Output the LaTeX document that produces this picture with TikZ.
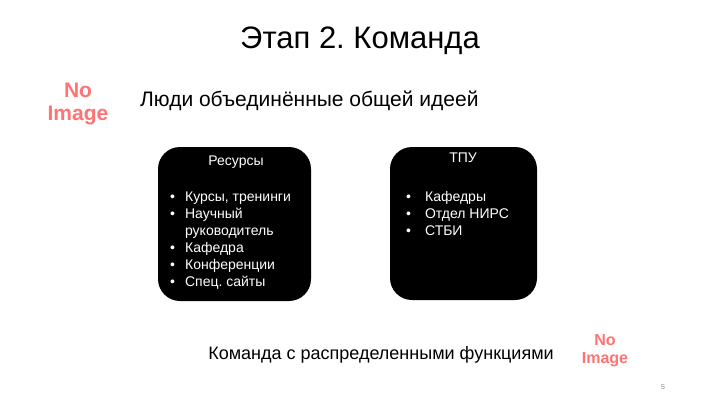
\documentclass[tikz,border=0pt]{standalone}
\usepackage{fontspec}
\setmainfont{Liberation Sans}
\frenchspacing
\begin{document}
\begin{tikzpicture}[x=1pt,y=-1pt,
  noimg/.style={text=red!55!white, font=\fontsize{21}{23}\selectfont\bfseries, align=center, inner sep=0pt},
  boxtext/.style={text=white, font=\fontsize{14}{17}\selectfont, inner sep=0pt, anchor=north west, align=left}
]
\useasboundingbox (0,0) rectangle (720,405);
\fill[white] (0,0) rectangle (720,405);

\node[font=\fontsize{31}{34}\selectfont, inner sep=0pt] (title) at (360,41) {Этап 2. Команда};
\node[noimg] (img1) at (78,104) {No\\Image};
\node[font=\fontsize{21}{24}\selectfont, anchor=west, inner sep=0pt] (sub) at (140,101) {Люди объединённые общей идеей};

\fill[rounded corners=22pt] (158,147) rectangle (311,301);
\fill[rounded corners=22pt] (390,147) rectangle (537,300);
\node[boxtext, anchor=center] (h1) at (236,162) {Ресурсы};
\node[boxtext, anchor=center] (h2) at (463,158) {ТПУ};

\node[boxtext] (list1) at (170,189) {%
\begin{tabular}{@{}l@{\hspace{10pt}}l@{}}
•&Курсы, тренинги\\
•&Научный\\
 &руководитель\\
•&Кафедра\\
•&Конференции\\
•&Спец. сайты
\end{tabular}};
\node[boxtext] (list2) at (406,189) {%
\begin{tabular}{@{}l@{\hspace{14pt}}l@{}}
•&Кафедры\\
•&Отдел НИРС\\
•&СТБИ
\end{tabular}};

\node[font=\fontsize{18}{20}\selectfont, inner sep=0pt] (bottom) at (381,355) {Команда с распределенными функциями};
\node[noimg, font=\fontsize{16}{18}\selectfont\bfseries] (img2) at (605,351) {No\\Image};
\node[font=\fontsize{7}{8}\selectfont, text=gray, inner sep=0pt] (pg) at (663,387) {5};
\end{tikzpicture}
\end{document}
